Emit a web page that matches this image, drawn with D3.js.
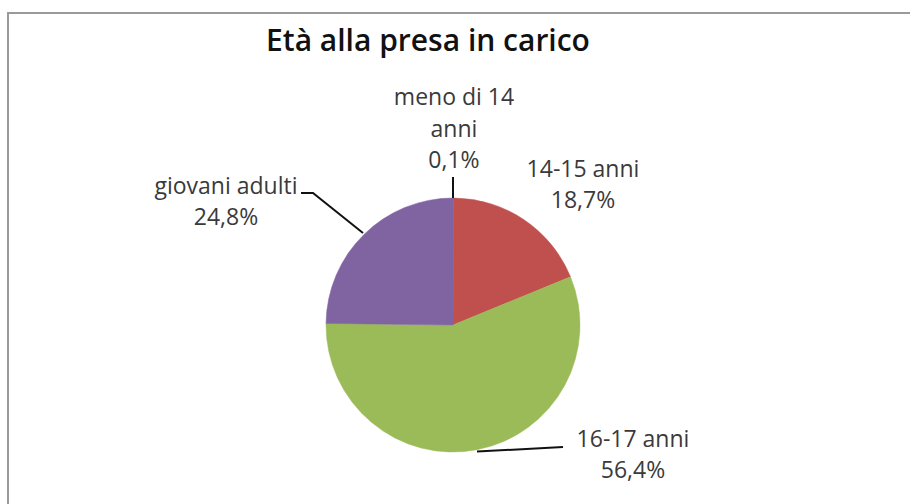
<!DOCTYPE html>
<html>
<head>
<meta charset="utf-8">
<script src="https://cdn.jsdelivr.net/npm/d3@7"></script>
<style>
  html, body { margin: 0; padding: 0; background: #ffffff; }
  svg { display: block; }
</style>
</head>
<body>
<svg id="chart" width="910" height="504"></svg>
<script>
// ---- data ----
const chartTitle = "Età alla presa in carico";
const categories = ["meno di 14 anni", "14-15 anni", "16-17 anni", "giovani adulti"];
const values = [0.1, 18.7, 56.4, 24.8];
const valueLabels = ["0,1%", "18,7%", "56,4%", "24,8%"];
const labelLines = [["meno di 14", "anni", "0,1%"], ["14-15 anni", "18,7%"], ["16-17 anni", "56,4%"], ["giovani adulti", "24,8%"]];
const colors = ["#4F81BD", "#C0504D", "#9BBB59", "#8064A2"];

// ---- layout (positions relative to pie centre) ----
const W = 910, H = 504;
const cx = 453, cy = 325, R = 127;
const lineH = 31.5;
const fontFam = "'Open Sans', Lato, sans-serif";
// y = baseline of the last line of each label
const labelLayout = [
  { x: 1,    y: -157, leader: [[0, -R], [0, -R - 21]] },
  { x: 130,  y: -117, leader: null },
  { x: 180,  y: 153,  leader: [[24, R - 0.5], [110, R - 5]] },
  { x: -227, y: -100, leader: [[-90, -92], [-140, -132], [-152, -132]] }
];

const svg = d3.select("#chart");

// border frame
svg.append("rect")
  .attr("x", 8).attr("y", 13)
  .attr("width", W).attr("height", H)
  .attr("fill", "#ffffff")
  .attr("stroke", "#9a9a9a").attr("stroke-width", 2);

// title
svg.append("text")
  .attr("x", 428).attr("y", 51)
  .attr("text-anchor", "middle")
  .attr("font-family", fontFam)
  .attr("font-weight", 600)
  .attr("font-size", 30)
  .attr("fill", "#111111")
  .text(chartTitle);

const pie = d3.pie().sort(null).value(d => d).startAngle(0).endAngle(2 * Math.PI);
const arcs = pie(values);
const arc = d3.arc().innerRadius(0).outerRadius(R);

const g = svg.append("g").attr("transform", `translate(${cx},${cy})`);

g.selectAll("path.slice")
  .data(arcs)
  .join("path")
  .attr("class", "slice")
  .attr("d", arc)
  .attr("fill", (d, i) => colors[i])
  .attr("stroke", (d, i) => colors[i])
  .attr("stroke-width", 0.5);

// leader lines
const line = d3.line();
g.selectAll("path.leader")
  .data(labelLayout.filter(l => l.leader))
  .join("path")
  .attr("class", "leader")
  .attr("d", d => line(d.leader))
  .attr("fill", "none")
  .attr("stroke", "#111111")
  .attr("stroke-width", 2);

// labels
labelLayout.forEach((l, i) => {
  const t = g.append("text")
    .attr("text-anchor", "middle")
    .attr("font-family", fontFam)
    .attr("font-size", 23)
    .attr("fill", "#3a3a3a");
  const lines = labelLines[i];
  const n = lines.length;
  lines.forEach((s, k) => {
    t.append("tspan")
      .attr("x", l.x)
      .attr("y", l.y - (n - 1 - k) * lineH)
      .text(s);
  });
});
</script>
</body>
</html>
